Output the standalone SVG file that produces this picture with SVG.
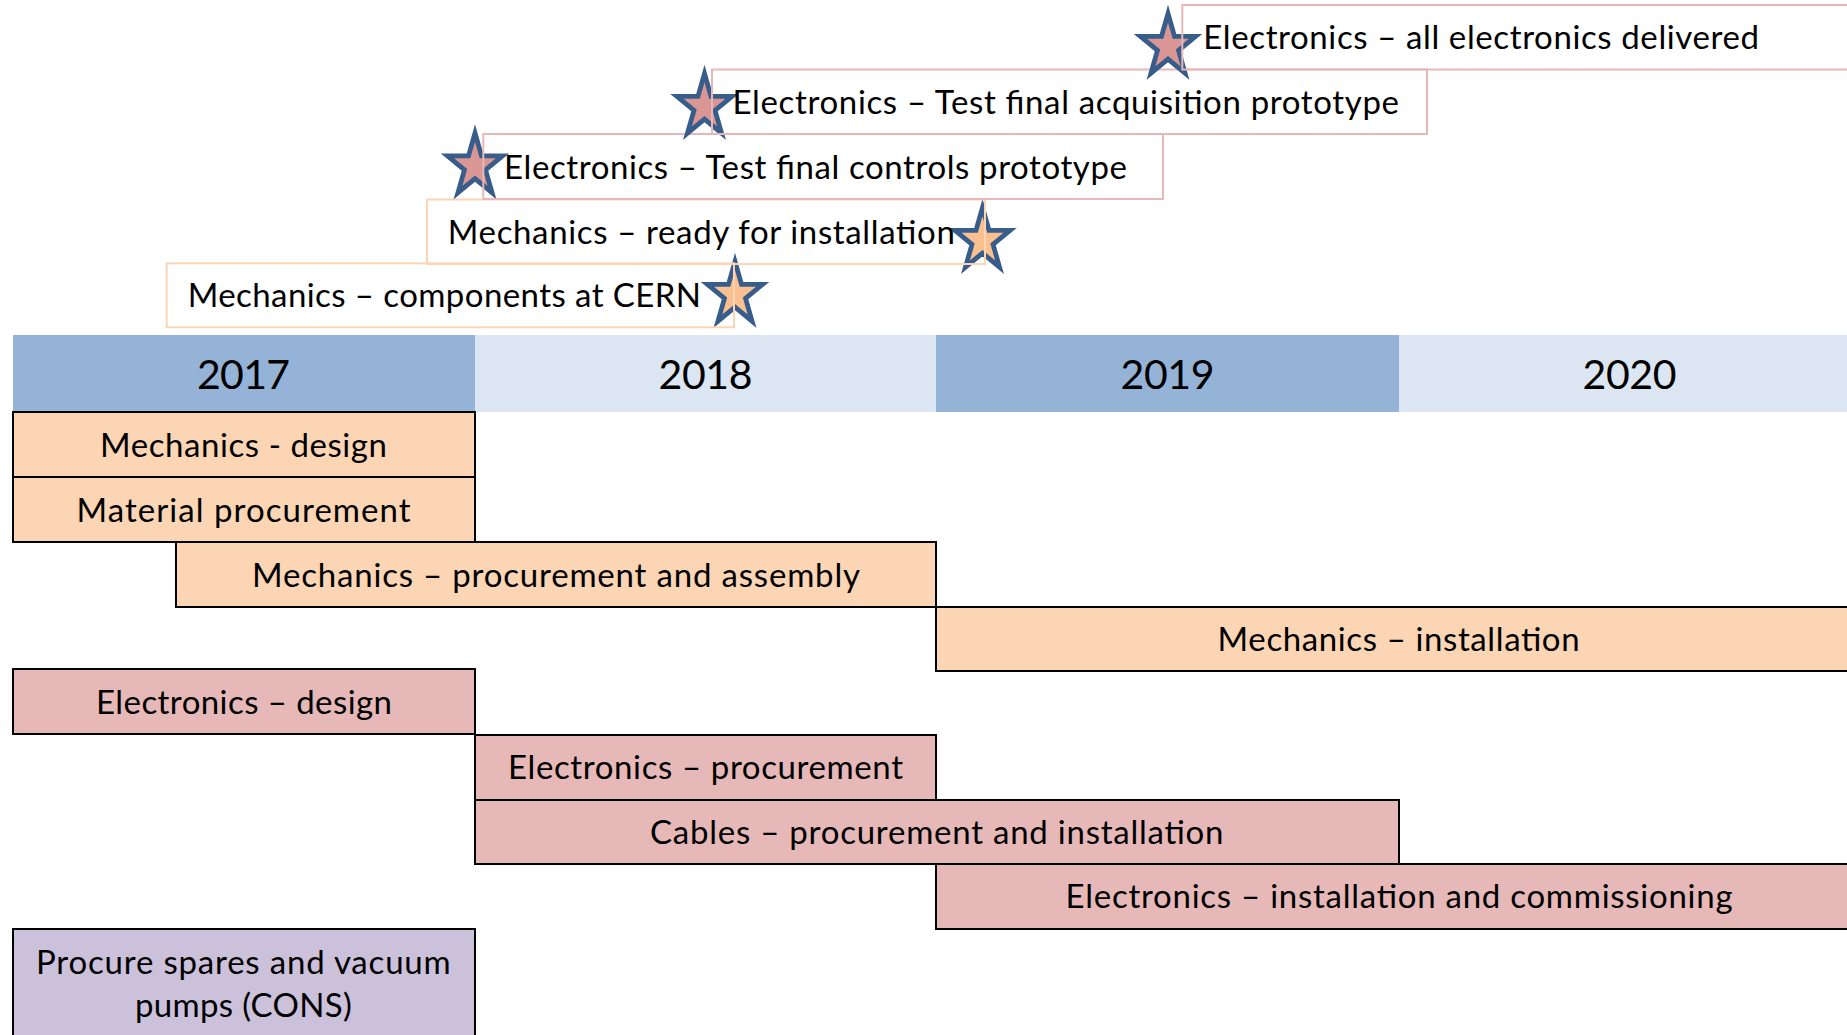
<svg xmlns="http://www.w3.org/2000/svg" xmlns:xlink="http://www.w3.org/1999/xlink" width="1847" height="1035" viewBox="0 0 1847 1035">
<style>
text{font-family:Lato,"Liberation Sans",sans-serif;fill:#000}
.lbl{font-size:33px}
.yr{font-size:41px;text-anchor:middle}
.yd{fill:#95B3D7}
.yl{fill:#DCE6F2}
.bar{stroke:#000;stroke-width:2}
.bo{fill:#FCD5B5}
.bp{fill:#E6B9B8}
.bv{fill:#CCC1DA}
.mo{fill:none;stroke:#FCD5B5;stroke-width:2}
.mp{fill:none;stroke:#E6B9B8;stroke-width:2}
.so{fill:#FAC090;stroke:#385D8A;stroke-width:4.8;stroke-linejoin:miter}
.sp{fill:#D99694;stroke:#385D8A;stroke-width:4.8;stroke-linejoin:miter}
</style>
<defs>
<path id="star" d="M0,-33 L6.51,-10.2 L27.6,-10.2 L10.53,3.89 L17.05,26.7 L0,12.6 L-17.05,26.7 L-10.53,3.89 L-27.6,-10.2 L-6.51,-10.2 Z"/>
</defs>
<rect x="0" y="0" width="1847" height="1035" fill="#fff"/>

<g id="years">
<g id="y2017"><rect class="yd" x="13" y="335" width="462" height="77"/><text class="yr" x="243.5" y="389.3" textLength="93">2017</text></g>
<g id="y2018"><rect class="yl" x="475" y="335" width="461" height="77"/><text class="yr" x="705.5" y="389.3" textLength="94">2018</text></g>
<g id="y2019"><rect class="yd" x="936" y="335" width="463" height="77"/><text class="yr" x="1167.5" y="389.3" textLength="94">2019</text></g>
<g id="y2020"><rect class="yl" x="1399" y="335" width="450" height="77"/><text class="yr" x="1629.5" y="389.3" textLength="94">2020</text></g>
</g>

<g id="tasks">
<g id="t-mech-design"><rect class="bar bo" x="13" y="412" width="462" height="65"/><text class="lbl" x="100" y="457" textLength="287">Mechanics - design</text></g>
<g id="t-material"><rect class="bar bo" x="13" y="477" width="462" height="65"/><text class="lbl" x="76.6" y="521.5" textLength="334">Material procurement</text></g>
<g id="t-mech-proc"><rect class="bar bo" x="176" y="542" width="760" height="65"/><text class="lbl" x="252" y="587" textLength="608">Mechanics – procurement and assembly</text></g>
<g id="t-mech-inst"><rect class="bar bo" x="936" y="607" width="930" height="64"/><text class="lbl" x="1217.6" y="651" textLength="362">Mechanics – installation</text></g>
<g id="t-elec-design"><rect class="bar bp" x="13" y="669" width="462" height="65"/><text class="lbl" x="96" y="714" textLength="296">Electronics – design</text></g>
<g id="t-elec-proc"><rect class="bar bp" x="475" y="735" width="461" height="65"/><text class="lbl" x="508" y="778.7" textLength="395">Electronics – procurement</text></g>
<g id="t-cables"><rect class="bar bp" x="475" y="800" width="924" height="64"/><text class="lbl" x="650" y="843.5" textLength="573.5">Cables – procurement and installation</text></g>
<g id="t-elec-inst"><rect class="bar bp" x="936" y="864" width="930" height="65"/><text class="lbl" x="1065.6" y="908" textLength="667">Electronics – installation and commissioning</text></g>
<g id="t-spares"><rect class="bar bv" x="13" y="929" width="462" height="120"/><text class="lbl" x="36" y="974" textLength="414.7">Procure spares and vacuum</text><text class="lbl" x="135" y="1017" textLength="216.7">pumps (CONS)</text></g>
</g>

<g id="connectors"></g>

<g id="milestones">
<g id="m-components">
<use xlink:href="#star" href="#star" x="735" y="294.5" class="so"/>
<rect class="mo" x="166.7" y="263.3" width="567.3" height="64"/>
<text class="lbl" x="187.7" y="307.3" textLength="513.3">Mechanics – components at CERN</text>
</g>
<g id="m-ready">
<use xlink:href="#star" href="#star" x="982.5" y="240.5" class="so"/>
<rect class="mo" x="427" y="199.5" width="558" height="64.5"/>
<text class="lbl" x="447.8" y="243.5" textLength="507">Mechanics – ready for installation</text>
</g>
<g id="m-controls">
<use xlink:href="#star" href="#star" x="475" y="166" class="sp"/>
<rect class="mp" x="483.3" y="134" width="679.7" height="65"/>
<text class="lbl" x="504" y="178.5" textLength="623">Electronics – Test final controls prototype</text>
</g>
<g id="m-acquisition">
<use xlink:href="#star" href="#star" x="704.5" y="106.5" class="sp"/>
<rect class="mp" x="712" y="69.5" width="715" height="64.5"/>
<text class="lbl" x="732.5" y="113.5" textLength="666.5">Electronics – Test final acquisition prototype</text>
</g>
<g id="m-delivered">
<use xlink:href="#star" href="#star" x="1168" y="46.5" class="sp"/>
<rect class="mp" x="1182.3" y="5" width="700" height="64.5"/>
<text class="lbl" x="1203.3" y="49.3" textLength="555.7">Electronics – all electronics delivered</text>
</g>
</g>
</svg>
